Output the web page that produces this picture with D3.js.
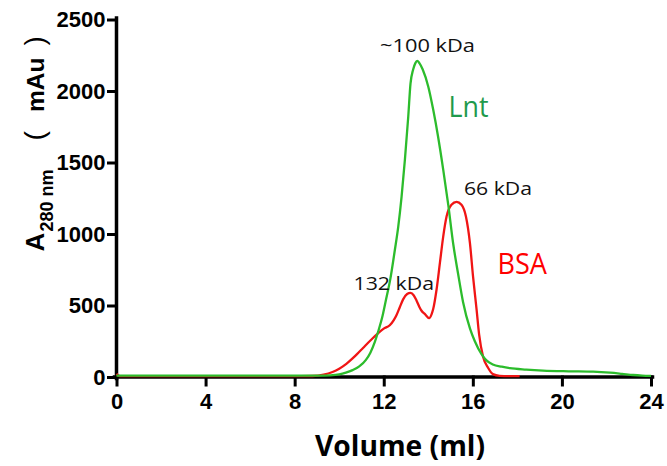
<!DOCTYPE html>
<html>
<head>
<meta charset="utf-8">
<script src="https://cdn.jsdelivr.net/npm/d3@7"></script>
<style>
  html, body { margin: 0; padding: 0; background: #fff; }
  svg { display: block; }
</style>
</head>
<body>
<svg id="chart" width="667" height="466"></svg>
<script>
// Elution volumes (ml) and absorbance at 280 nm (mAu) for each run
const lntVolume = [0, 2, 4, 6, 8, 9, 9.6, 10.0, 10.3, 10.6, 10.9, 11.2, 11.4, 11.6, 11.75, 11.95,
  12.1, 12.3, 12.5, 12.65, 12.8, 12.95, 13.1, 13.2, 13.32, 13.42, 13.5, 13.6, 13.75, 14.0,
  14.22, 14.44, 14.67, 14.9, 15.12, 15.34, 15.56, 15.87, 16.09, 16.39, 16.6, 16.9,
  17.3, 17.66, 18.4, 19.15, 20.3, 21.4, 22.16, 22.7, 23.2, 23.6, 24];
const lntAbsorbance = [10, 10, 10, 10, 10, 10, 12, 18, 30, 48, 74, 120, 170, 245, 318, 430,
  540, 690, 890, 1050, 1260, 1520, 1820, 2050, 2150, 2195, 2210, 2195, 2150, 2030,
  1870, 1680, 1450, 1200, 930, 720, 525, 340, 250, 160, 118, 88,
  72, 62, 52, 45, 40, 37, 30, 22, 14, 10, 8];

const bsaVolume = [0, 0.15, 2, 4, 6, 8, 8.8, 9.3, 9.7, 10.0, 10.32, 10.6, 10.8, 11.07, 11.4,
  11.74, 12.0, 12.27, 12.45, 12.57, 12.72, 12.87, 13.05, 13.2, 13.35, 13.47, 13.6, 13.69,
  13.85, 14.04, 14.15, 14.22, 14.37, 14.52, 14.67, 14.82, 15.04, 15.27, 15.49, 15.69, 15.87,
  16.01, 16.17, 16.28, 16.46, 16.69, 16.9, 17.2, 17.6, 18.1];
const bsaAbsorbance = [22, 6, 6, 6, 6, 6, 7, 16, 35, 58, 92, 130, 160, 203, 255,
  305, 338, 362, 398, 432, 488, 543, 580, 588, 570, 535, 490, 465,
  440, 412, 440, 475, 610, 796, 982, 1122, 1204, 1225, 1204, 1122, 936,
  702, 469, 300, 142, 63, 20, 8, 6, 6];

const xTickValues = [0, 4, 8, 12, 16, 20, 24];
const yTickValues = [0, 500, 1000, 1500, 2000, 2500];

// Peak annotations and series labels
const annotations = [
  { text: "~100 kDa", x: 380, y: 51.5, len: 95, color: "#111", size: 19 },
  { text: "66 kDa", x: 464, y: 195, len: 68, color: "#111", size: 19 },
  { text: "132 kDa", x: 353.5, y: 290, len: 80.5, color: "#111", size: 19 },
  { text: "Lnt", x: 448.5, y: 116.5, len: 40, color: "#1f9a4c", size: 30 },
  { text: "BSA", x: 497.5, y: 274, len: 49.5, color: "#ff0000", size: 29 }
];

const svg = d3.select("#chart");

const x = d3.scaleLinear().domain([0, 24]).range([116.5, 651]);
const y = d3.scaleLinear().domain([0, 2500]).range([377, 19.5]);

const tickFont = "'Liberation Sans', Arial, sans-serif";

// X axis
const xAxis = svg.append("g")
  .attr("transform", `translate(0,${y(0)})`)
  .call(d3.axisBottom(x).tickValues(xTickValues).tickFormat(d3.format("d"))
    .tickSize(8).tickPadding(8).tickSizeOuter(0));
xAxis.select(".domain").attr("stroke", "#000").attr("stroke-width", 3.5)
  .attr("d", `M${x(0) - 2},0H${x(24) + 1.5}`);
xAxis.selectAll(".tick line").attr("stroke", "#000").attr("stroke-width", 3);
xAxis.selectAll(".tick text")
  .attr("font-family", tickFont).attr("font-weight", "bold")
  .attr("font-size", 22).attr("fill", "#000");

// Y axis
const yAxis = svg.append("g")
  .attr("transform", `translate(${x(0)},0)`)
  .call(d3.axisLeft(y).tickValues(yTickValues).tickFormat(d3.format("d"))
    .tickSize(8).tickPadding(3).tickSizeOuter(0));
yAxis.select(".domain").attr("stroke", "#000").attr("stroke-width", 3.5)
  .attr("d", `M0,${y(2500) - 1.5}V${y(0) + 1.5}`);
yAxis.selectAll(".tick line").attr("stroke", "#000").attr("stroke-width", 3);
yAxis.selectAll(".tick text")
  .attr("font-family", tickFont).attr("font-weight", "bold")
  .attr("font-size", 22).attr("fill", "#000");
svg.selectAll(".domain, .tick line").attr("stroke-linecap", "square");

// Chromatogram traces
const line = d3.line()
  .x(d => x(d[0]))
  .y(d => y(d[1]))
  .curve(d3.curveMonotoneX);

const bsaData = d3.zip(bsaVolume, bsaAbsorbance);
const lntData = d3.zip(lntVolume, lntAbsorbance);

svg.append("path")
  .datum(bsaData)
  .attr("d", line)
  .attr("fill", "none")
  .attr("stroke", "#f01515")
  .attr("stroke-width", 2.3)
  .attr("stroke-linejoin", "round");

svg.append("path")
  .datum(lntData)
  .attr("d", line)
  .attr("fill", "none")
  .attr("stroke", "#2cbc2c")
  .attr("stroke-width", 2.3)
  .attr("stroke-linejoin", "round");

// Labels
svg.selectAll("text.note")
  .data(annotations)
  .enter().append("text")
  .attr("class", "note")
  .attr("x", d => d.x)
  .attr("y", d => d.y)
  .attr("font-family", "'Open Sans', 'Noto Sans', sans-serif")
  .attr("font-size", d => d.size)
  .attr("fill", d => d.color)
  .attr("textLength", d => d.len)
  .attr("lengthAdjust", "spacingAndGlyphs")
  .text(d => d.text);

// Axis titles
svg.append("text")
  .attr("x", 315)
  .attr("y", 456)
  .attr("font-family", "'Open Sans', 'Noto Sans', sans-serif")
  .attr("font-weight", "bold")
  .attr("font-size", 28)
  .attr("fill", "#000")
  .attr("textLength", 170)
  .attr("lengthAdjust", "spacingAndGlyphs")
  .text("Volume (ml)");

// Rotated y title; local x runs upward from the bottom of the "A"
const yTitle = svg.append("text")
  .attr("transform", "translate(43.5,251.5) rotate(-90)")
  .attr("font-family", tickFont)
  .attr("font-weight", "bold")
  .attr("fill", "#000");
yTitle.append("tspan").attr("x", 0).attr("y", 0).attr("font-size", 26).text("A");
yTitle.append("tspan").attr("x", 20).attr("y", 9).attr("font-size", 18).text("280 nm");
yTitle.append("tspan").attr("x", 111).attr("y", 0).attr("font-size", 28)
  .attr("font-weight", "normal").text("(");
yTitle.append("tspan").attr("x", 139.5).attr("y", 0).attr("font-size", 24.5).text("mAu");
yTitle.append("tspan").attr("x", 206).attr("y", 0).attr("font-size", 28)
  .attr("font-weight", "normal").text(")");
</script>
</body>
</html>
